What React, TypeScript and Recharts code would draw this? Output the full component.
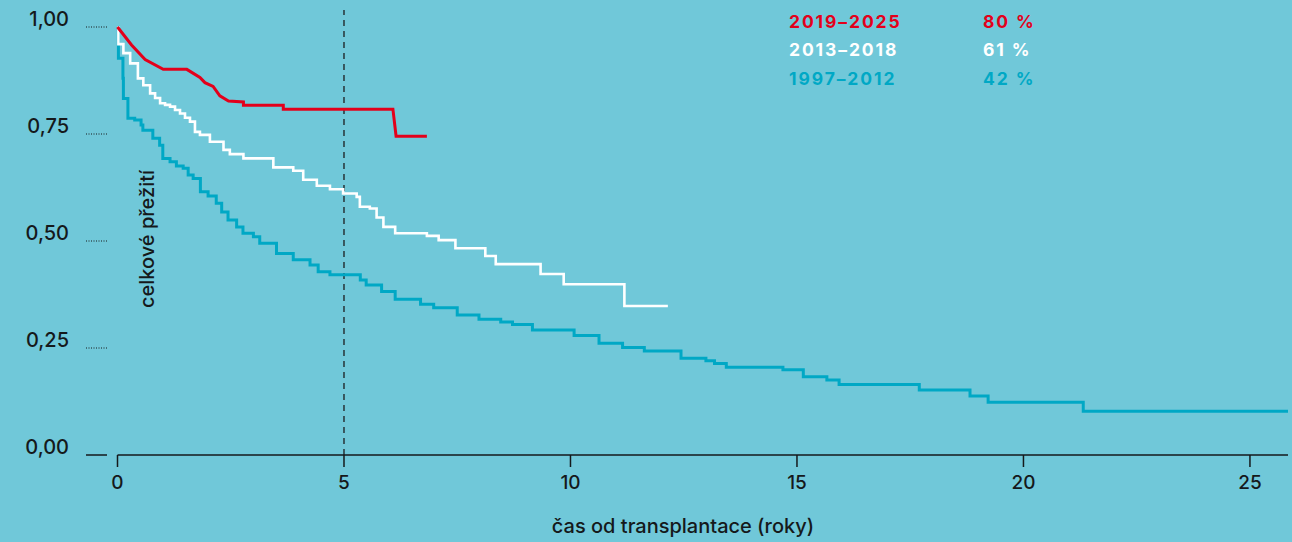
import React from "react";
import {
  LineChart,
  Line,
  XAxis,
  YAxis,
  ReferenceLine,
} from "recharts";

// Kaplan-Meier curves, [years, survival]
const red2019: [number, number][] = [
  [0, 1], [0.31, 0.958], [0.61, 0.924], [1.01, 0.901], [1.53, 0.901], [1.82, 0.882],
  [1.93, 0.87], [2.11, 0.861], [2.26, 0.839], [2.45, 0.827], [2.78, 0.825], [2.78, 0.817],
  [3.66, 0.817], [3.66, 0.808], [6.08, 0.808], [6.15, 0.745], [6.83, 0.745],
];

const white2013: [number, number][] = [
  [0, 1], [0.02, 0.96], [0.13, 0.939], [0.28, 0.915], [0.45, 0.88], [0.57, 0.864],
  [0.72, 0.845], [0.83, 0.834], [0.94, 0.822], [1.05, 0.818], [1.16, 0.814], [1.27, 0.806],
  [1.38, 0.798], [1.49, 0.788], [1.6, 0.779], [1.71, 0.755], [1.82, 0.748], [2.04, 0.732],
  [2.34, 0.713], [2.48, 0.703], [2.78, 0.693], [3.44, 0.672], [3.88, 0.664], [4.1, 0.643],
  [4.4, 0.629], [4.69, 0.621], [4.98, 0.611], [5.28, 0.603], [5.35, 0.58], [5.57, 0.576],
  [5.72, 0.555], [5.87, 0.533], [6.13, 0.518], [6.83, 0.512], [7.09, 0.502], [7.46, 0.483],
  [8.12, 0.465], [8.35, 0.446], [9.34, 0.423], [9.85, 0.399], [11.19, 0.348], [12.15, 0.348],
];

const cyan1997: [number, number][] = [
  [0, 1], [0.02, 0.927], [0.12, 0.88], [0.13, 0.833], [0.23, 0.787], [0.38, 0.783],
  [0.52, 0.771], [0.56, 0.759], [0.78, 0.74], [0.93, 0.724], [1.0, 0.693], [1.16, 0.685],
  [1.3, 0.675], [1.45, 0.67], [1.56, 0.654], [1.67, 0.646], [1.83, 0.615], [2.0, 0.605],
  [2.18, 0.588], [2.3, 0.568], [2.44, 0.549], [2.63, 0.533], [2.77, 0.518], [3.0, 0.51],
  [3.14, 0.495], [3.51, 0.471], [3.88, 0.456], [4.25, 0.444], [4.43, 0.428], [4.69, 0.421],
  [5.36, 0.409], [5.49, 0.397], [5.83, 0.382], [6.13, 0.364], [6.69, 0.352], [6.98, 0.344],
  [7.5, 0.327], [7.98, 0.317], [8.46, 0.311], [8.72, 0.305], [9.16, 0.292], [10.08, 0.279],
  [10.63, 0.261], [11.15, 0.251], [11.63, 0.243], [12.44, 0.226], [12.99, 0.22], [13.18, 0.214],
  [13.44, 0.205], [14.69, 0.199], [15.14, 0.183], [15.66, 0.175], [15.93, 0.165], [17.7, 0.152],
  [18.82, 0.138], [19.22, 0.123], [21.32, 0.102], [25.84, 0.102],
];

const xTicks = [0, 5, 10, 15, 20, 25];
const yTicks = [0, 0.25, 0.5, 0.75, 1];

const legendRows = [
  { period: "2019–2025", pct: "80 %", color: "#e3001b" },
  { period: "2013–2018", pct: "61 %", color: "#ffffff" },
  { period: "1997–2012", pct: "42 %", color: "#00a8c5" },
];

const toRows = (arr: [number, number][]) => arr.map(([t, s]) => ({ t, s }));

const BG = "#70c8d9";
const INK = "#15191b";
const FONT = "Inter, 'Noto Sans', sans-serif";

function YTick(props: any) {
  const { y, payload } = props;
  const v: number = payload.value;
  const label = v.toFixed(2).replace(".", ",");
  return (
    <g>
      <text x={69} y={y - 6} textAnchor="end" dominantBaseline="middle" fill={INK} fontSize={20} fontWeight={500} fontFamily={FONT}>
        {label}
      </text>
      <line
        x1={86}
        x2={107}
        y1={y}
        y2={y}
        stroke={INK}
        strokeWidth={v === 0 ? 1.5 : 1}
        strokeDasharray={v === 0 ? undefined : "1 1.5"}
      />
    </g>
  );
}

function XTitle() {
  return (
    <text x={683} y={533} textAnchor="middle" fill={INK} fontSize={20} fontWeight={500} fontFamily={FONT}>
      čas od transplantace (roky)
    </text>
  );
}

export default function App() {
  return (
    <div style={{ position: "relative", width: 1292, height: 542, background: BG, fontFamily: FONT }}>
      <style>{"body{margin:0}"}</style>
      <LineChart width={1292} height={542} margin={{ top: 27, right: 4, bottom: 27, left: 0 }}>
        <XAxis
          type="number"
          dataKey="t"
          domain={[0, 25.84]}
          ticks={xTicks}
          height={60}
          axisLine={{ stroke: INK, strokeWidth: 1.5 }}
          tickLine={{ stroke: INK, strokeWidth: 1.5 }}
          tickSize={12}
          tickMargin={9}
          tick={{ fill: INK, fontSize: 19, fontWeight: 500, fontFamily: FONT }}
          label={<XTitle />}
          allowDuplicatedCategory={false}
        />
        <YAxis
          type="number"
          domain={[0, 1]}
          ticks={yTicks}
          width={117.5}
          axisLine={false}
          tickLine={false}
          tick={<YTick />}
        />
        <ReferenceLine
          segment={[{ x: 5, y: 0 }, { x: 5, y: 1.04 }]}
          stroke="#263438"
          strokeWidth={1.5}
          strokeDasharray="6 5"
          ifOverflow="visible"
        />
        <Line
          data={toRows(cyan1997)}
          dataKey="s"
          type="stepAfter"
          stroke="#00a8c5"
          strokeWidth={3}
          dot={false}
          isAnimationActive={false}
        />
        <Line
          data={toRows(white2013)}
          dataKey="s"
          type="stepAfter"
          stroke="#ffffff"
          strokeWidth={2.6}
          dot={false}
          isAnimationActive={false}
        />
        <Line
          data={toRows(red2019)}
          dataKey="s"
          type="linear"
          stroke="#e3001b"
          strokeWidth={3}
          dot={false}
          isAnimationActive={false}
        />
      </LineChart>
      <div
        style={{
          position: "absolute",
          left: 147,
          top: 239,
          width: 0,
          height: 0,
        }}
      >
        <div
          style={{
            position: "absolute",
            left: 0,
            top: 0,
            transform: "translate(-50%, -50%) rotate(-90deg)",
            fontSize: 20,
            fontWeight: 500,
            lineHeight: "22px",
            color: INK,
            whiteSpace: "nowrap",
          }}
        >
          celkové přežití
        </div>
      </div>
      <div style={{ position: "absolute", left: 789, top: 7, fontFamily: FONT, fontWeight: 700, fontSize: 17.5, letterSpacing: 1.9 }}>
        {legendRows.map((r) => (
          <div key={r.period} style={{ display: "flex", height: 28.5, alignItems: "center", color: r.color }}>
            <span style={{ width: 194 }}>{r.period}</span>
            <span>{r.pct}</span>
          </div>
        ))}
      </div>
    </div>
  );
}
